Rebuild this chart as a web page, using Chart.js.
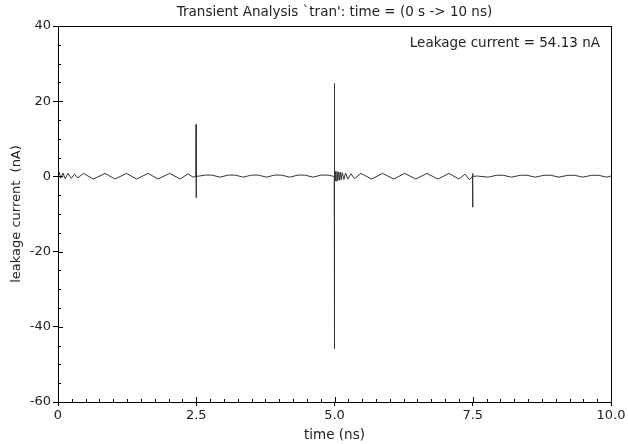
<!DOCTYPE html>
<html>
<head>
<meta charset="utf-8">
<script src="https://cdn.jsdelivr.net/npm/chart.js@4"></script>
<style>
    html, body { margin: 0; padding: 0; background: #fff; }
    #wrap { width: 628px; height: 444px; }
</style>
</head>
<body>
<div id="wrap"><canvas id="tran-chart" width="628" height="444"></canvas></div>
<script>
// Transient analysis samples (time in ns, current in nA)
const timeNs = [
    0, 0.02, 0.05, 0.09, 0.13, 0.18, 0.24, 0.30, 0.36, 0.46, 0.64, 0.85, 1.03, 1.24, 1.42, 1.63, 1.81, 2.02, 2.21, 2.35, 2.44,
    2.495, 2.50, 2.50, 2.50,
    2.56, 2.66, 2.78, 2.93, 3.08, 3.20, 3.35, 3.50, 3.62, 3.77, 3.92, 4.04, 4.19, 4.34, 4.46, 4.61, 4.76, 4.88, 4.96,
    4.995, 5.00, 5.00, 5.00,
    5.01, 5.02, 5.03, 5.045, 5.06, 5.075, 5.09, 5.105, 5.12, 5.14, 5.17, 5.20, 5.24, 5.30, 5.36,
    5.48, 5.67, 5.87, 6.07, 6.27, 6.47, 6.67, 6.87, 7.07, 7.25, 7.36, 7.44,
    7.495, 7.50, 7.50, 7.50,
    7.58, 7.78, 7.93, 8.05, 8.20, 8.36, 8.48, 8.63, 8.79, 8.91, 9.06, 9.22, 9.34, 9.49, 9.65, 9.77, 9.92, 10.0
];
const leakageNa = [
    0, 1.1, -0.5, 0.9, -0.6, 0.8, -0.5, 0.6, -0.4, 0.8, -0.7, 0.8, -0.7, 0.8, -0.7, 0.8, -0.7, 0.8, -0.7, 0.7, -0.2,
    0, 13.8, -5.7, 0,
    0.1, 0.35, 0.35, -0.2, 0.35, 0.35, -0.2, 0.35, 0.35, -0.2, 0.35, 0.35, -0.2, 0.35, 0.35, -0.2, 0.35, 0.35, 0.1,
    0, 24.7, -45.8, 0.5,
    -1.2, 1.3, -1.2, 1.3, -1.1, 1.2, -1.0, 1.1, -0.9, 1.0, -0.8, 0.9, -0.7, 0.7, -0.6,
    0.8, -0.7, 0.8, -0.7, 0.8, -0.7, 0.8, -0.7, 0.8, -0.7, 0.6, -0.9,
    0, 0.8, -8.2, 0,
    0.1, -0.2, 0.3, 0.3, -0.2, 0.3, 0.3, -0.2, 0.3, 0.3, -0.2, 0.3, 0.3, -0.2, 0.3, 0.3, -0.2, 0.1
];
const xTickValues = [0, 2.5, 5, 7.5, 10];
const xTickLabels = ['0', '2.5', '5.0', '7.5', '10.0'];
const yTickValues = [40, 20, 0, -20, -40, -60];
const titleText = "Transient Analysis `tran': time = (0 s -> 10 ns)";
const annotationText = 'Leakage current = 54.13 nA';

const FONT = "'DejaVu Sans', sans-serif";

// Title over the plot, frame, inward minor/major ticks and the value box text
const framePlugin = {
    id: 'frame',
    afterDraw(chart) {
        const { ctx, chartArea: a, scales } = chart;
        ctx.save();
        ctx.strokeStyle = '#000';
        ctx.lineWidth = 1;
        ctx.strokeRect(Math.round(a.left) + 0.5, Math.round(a.top) + 0.5,
            Math.round(a.right - a.left), Math.round(a.bottom - a.top));

        ctx.beginPath();
        for (let i = 0; i <= 40; i++) {
            const v = i * 0.25;
            const x = Math.round(scales.x.getPixelForValue(v)) + 0.5;
            const len = i % 10 === 0 ? 5 : 3;
            ctx.moveTo(x, a.bottom);
            ctx.lineTo(x, a.bottom - len);
        }
        for (let i = 0; i <= 20; i++) {
            const v = -60 + i * 5;
            const y = Math.round(scales.y.getPixelForValue(v)) + 0.5;
            const len = i % 4 === 0 ? 5 : 3;
            ctx.moveTo(a.left, y);
            ctx.lineTo(a.left + len, y);
        }
        ctx.stroke();

        ctx.fillStyle = '#222';
        ctx.font = '13.5px ' + FONT;
        ctx.textBaseline = 'middle';
        ctx.textAlign = 'center';
        ctx.fillText(titleText, (a.left + a.right) / 2, 12);
        ctx.textAlign = 'right';
        ctx.fillText(annotationText, a.right - 11, a.top + 17);
        ctx.restore();
    }
};

document.addEventListener('DOMContentLoaded', () => {
    const canvas = document.getElementById('tran-chart');
    new Chart(canvas.getContext('2d'), {
        type: 'line',
        data: {
            datasets: [{
                data: timeNs.map((t, i) => ({ x: t, y: leakageNa[i] })),
                borderColor: '#333',
                borderWidth: 1,
                pointRadius: 0,
                fill: false,
                tension: 0
            }]
        },
        options: {
            responsive: false,
            animation: false,
            layout: { padding: { left: 0, right: 17, top: 26, bottom: 0 } },
            scales: {
                x: {
                    type: 'linear',
                    min: 0,
                    max: 10,
                    afterBuildTicks: s => { s.ticks = xTickValues.map(v => ({ value: v })); },
                    afterFit: s => { s.height = 42; },
                    ticks: {
                        color: '#222',
                        font: { family: FONT, size: 13 },
                        padding: 2,
                        maxRotation: 0,
                        callback: v => xTickLabels[xTickValues.indexOf(v)]
                    },
                    grid: { drawOnChartArea: false, tickLength: 4, color: '#000' },
                    border: { color: '#000' },
                    title: {
                        display: true,
                        text: 'time (ns)',
                        color: '#222',
                        font: { family: FONT, size: 13.5 },
                        padding: { top: 0, bottom: 0 }
                    }
                },
                y: {
                    min: -60,
                    max: 40,
                    afterBuildTicks: s => { s.ticks = yTickValues.map(v => ({ value: v })); },
                    afterFit: s => { s.width = 58; },
                    ticks: {
                        color: '#222',
                        font: { family: FONT, size: 13 },
                        padding: 2
                    },
                    grid: { drawOnChartArea: false, tickLength: 5, color: '#000' },
                    border: { color: '#000' },
                    title: {
                        display: true,
                        text: 'leakage current  (nA)',
                        color: '#222',
                        font: { family: FONT, size: 13 },
                        padding: { top: 9, bottom: 0 }
                    }
                }
            },
            plugins: {
                legend: { display: false },
                tooltip: { enabled: false },
                title: { display: false }
            }
        },
        plugins: [framePlugin]
    });
});
</script>
</body>
</html>
